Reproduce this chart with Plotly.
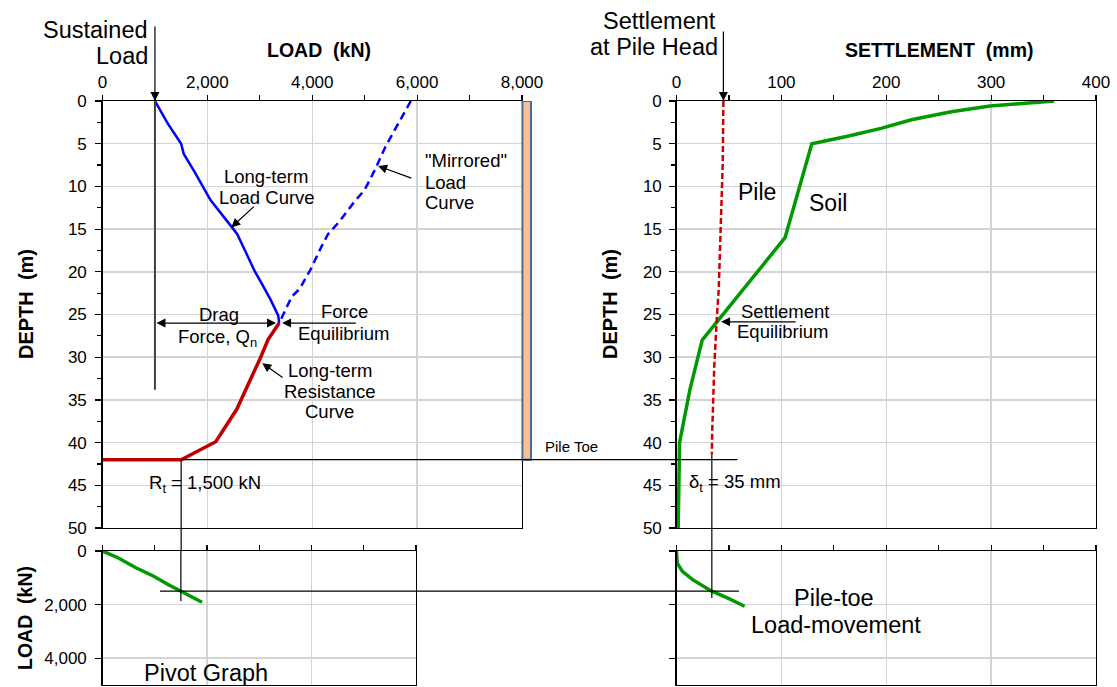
import plotly.graph_objects as go

W, H = 1117, 687
FONT = "Liberation Sans, Arial, sans-serif"

# ---------------- data ----------------
LOAD_KN = [1000, 1240, 1500, 1550, 1750, 2060, 2470, 2570, 2740, 2900, 3040, 3200, 3350, 3370]
LOAD_DEPTH = [0, 2.6, 5.0, 6.2, 8.25, 11.6, 14.8, 15.6, 17.8, 19.9, 21.4, 23.2, 25.1, 26.0]

MIRROR_KN = [5880, 5400, 5200, 5000, 4790, 4520, 4300, 4180, 3970, 3760, 3610, 3460, 3370]
MIRROR_DEPTH = [0, 5.3, 8.0, 10.4, 11.9, 14.1, 15.6, 17.0, 19.7, 22.0, 22.9, 24.9, 26.0]

RES_KN = [3370, 3160, 3010, 2780, 2560, 2160, 1500, 0]
RES_DEPTH = [26.0, 27.9, 30.1, 33.2, 36.1, 39.9, 42.0, 42.0]

SOIL_MM = [360, 299, 262, 224, 195, 162, 129, 103.5, 24.5, 12.8, 2.9, 1.6]
SOIL_DEPTH = [0, 0.58, 1.25, 2.2, 3.2, 4.16, 5.0, 16.0, 28.0, 33.8, 40.0, 50.0]

PILE_MM = [44.7, 44.1, 42.1, 40.3, 38.3, 36.0, 34.0, 33.7]
PILE_DEPTH = [0, 7.3, 15.0, 22.0, 25.7, 31.1, 38.9, 41.4]

PIVOT_X_KN = [0, 295, 640, 980, 1255, 1500, 1905]
PIVOT_Y_KN = [0, 250, 625, 940, 1250, 1500, 1910]

TOE_MOVE_MM = [0, 0.7, 5.6, 15.4, 33.5, 48, 65]
TOE_LOAD_KN = [0, 450, 760, 1070, 1500, 1740, 2060]

SUSTAINED_LOAD = 1000
SUSTAINED_LINE_END = 33.8
NEUTRAL_DEPTH = 26.0
PILE_TOE_DEPTH = 42.0
PILE_HEAD_SETTLEMENT = 44.7
RT = 1500
DELTA_T = 33.7
RT_PIVOT_END = 1875
DT_TOE_END = 1750
TOE_LINE_START = 1100
TOE_LINE_END_MM = 59.5
TOE_DEPTH_LINE_END_MM = 58
PILE_LINE_START = 41.4

X1_RANGE = [0, 8000]
X2_RANGE = [0, 400]
X3_RANGE = [0, 6000]
DEPTH_RANGE = [50, 0]
LOAD_RANGE = [5000, 0]

# ---------------- layout geometry ----------------
def px_x(a, b):
    return [a / W, b / W]

def px_y(top, bottom):
    return [1 - bottom / H, 1 - top / H]

TL_X = px_x(102.5, 522)
TR_X = px_x(676.5, 1096)
BL_X = px_x(102.5, 416)
TOP_Y = px_y(101, 528)
BOT_Y = px_y(551, 685)

BLUE = "#0000FF"
RED = "#C00000"
GREEN = "#009A00"
GRID = "#D4D4D4"

fig = go.Figure()

fig.add_trace(go.Scatter(x=LOAD_KN, y=LOAD_DEPTH, mode="lines",
                         line=dict(color=BLUE, width=2.5), xaxis="x", yaxis="y"))
fig.add_trace(go.Scatter(x=MIRROR_KN, y=MIRROR_DEPTH, mode="lines",
                         line=dict(color=BLUE, width=2.5, dash="8px,5px"), xaxis="x", yaxis="y"))
fig.add_trace(go.Scatter(x=RES_KN, y=RES_DEPTH, mode="lines",
                         line=dict(color=RED, width=3.5), xaxis="x", yaxis="y"))
fig.add_trace(go.Scatter(x=SOIL_MM, y=SOIL_DEPTH, mode="lines",
                         line=dict(color=GREEN, width=3.5), xaxis="x2", yaxis="y2"))
fig.add_trace(go.Scatter(x=PILE_MM, y=PILE_DEPTH, mode="lines",
                         line=dict(color="#CC0000", width=2.5, dash="6px,3px"), xaxis="x2", yaxis="y2"))
fig.add_trace(go.Scatter(x=PIVOT_X_KN, y=PIVOT_Y_KN, mode="lines",
                         line=dict(color=GREEN, width=3.5), xaxis="x3", yaxis="y3"))
fig.add_trace(go.Scatter(x=TOE_MOVE_MM, y=TOE_LOAD_KN, mode="lines",
                         line=dict(color=GREEN, width=3.5), xaxis="x4", yaxis="y4"))

# ---------------- axes ----------------
def ax_style(**kw):
    d = dict(showline=True, linecolor="black", linewidth=1.3, mirror=True,
             ticks="outside", tickcolor="black", tickwidth=1.2, ticklen=5,
             showgrid=True, gridcolor=GRID, gridwidth=1.5, zeroline=False,
             tickfont=dict(size=17, color="black", family=FONT), fixedrange=True)
    d.update(kw)
    return d

def minor(dt, ln):
    return dict(dtick=dt, ticks="outside", ticklen=ln, tickcolor="black", tickwidth=1.2, showgrid=False)

fig.update_layout(
    xaxis=ax_style(domain=TL_X, anchor="y", side="top", range=X1_RANGE, dtick=2000,
                   tickformat=",", minor=minor(1000, 5)),
    yaxis=ax_style(domain=TOP_Y, anchor="x", range=DEPTH_RANGE, dtick=5, ticklen=6,
                   ticklabelstandoff=5, minor=minor(2.5, 4)),
    xaxis2=ax_style(domain=TR_X, anchor="y2", side="top", range=X2_RANGE, dtick=100,
                    minor=minor(50, 5)),
    yaxis2=ax_style(domain=TOP_Y, anchor="x2", range=DEPTH_RANGE, dtick=5, ticklen=6,
                    ticklabelstandoff=4, minor=minor(2.5, 4)),
    xaxis3=ax_style(domain=BL_X, anchor="y3", side="top", range=X3_RANGE, dtick=2000,
                    showticklabels=False, minor=minor(1000, 5)),
    yaxis3=ax_style(domain=BOT_Y, anchor="x3", range=LOAD_RANGE, dtick=2000, ticklen=6,
                    ticklabelstandoff=5, tickformat=","),
    xaxis4=ax_style(domain=TR_X, anchor="y4", side="top", range=X2_RANGE, dtick=100,
                    showticklabels=False, minor=minor(50, 5)),
    yaxis4=ax_style(domain=BOT_Y, anchor="x4", range=LOAD_RANGE, dtick=2000, ticklen=6,
                    showticklabels=False),
)

# ---------------- shapes ----------------
shapes = []
LINE = dict(color="black", width=1.2)

shapes.append(dict(type="line", xref="x", yref="y", x0=SUSTAINED_LOAD, x1=SUSTAINED_LOAD,
                   y0=0, y1=SUSTAINED_LINE_END, line=dict(color="#404040", width=2)))
shapes.append(dict(type="rect", xref="x domain", yref="y", x0=1.001, x1=1.0215,
                   y0=0, y1=PILE_TOE_DEPTH, fillcolor="#FAC090",
                   line=dict(color="#4A6A9A", width=2)))
shapes += [
    dict(type="line", xref="x", yref="y", x0=RT, x1=X1_RANGE[1], y0=PILE_TOE_DEPTH, y1=PILE_TOE_DEPTH, line=LINE),
    dict(type="line", xref="paper", yref="y", x0=TL_X[1], x1=TR_X[0], y0=PILE_TOE_DEPTH, y1=PILE_TOE_DEPTH, line=LINE),
    dict(type="line", xref="x2", yref="y2", x0=0, x1=TOE_DEPTH_LINE_END_MM, y0=PILE_TOE_DEPTH, y1=PILE_TOE_DEPTH, line=LINE),
]
shapes += [
    dict(type="line", xref="x", yref="y", x0=RT, x1=RT, y0=PILE_TOE_DEPTH, y1=DEPTH_RANGE[0], line=LINE),
    dict(type="line", xref="x", yref="paper", x0=RT, x1=RT, y0=BOT_Y[1], y1=TOP_Y[0], line=LINE),
    dict(type="line", xref="x3", yref="y3", x0=RT, x1=RT, y0=0, y1=RT_PIVOT_END, line=LINE),
]
shapes += [
    dict(type="line", xref="x2", yref="y2", x0=DELTA_T, x1=DELTA_T, y0=PILE_LINE_START, y1=DEPTH_RANGE[0], line=LINE),
    dict(type="line", xref="x2", yref="paper", x0=DELTA_T, x1=DELTA_T, y0=BOT_Y[1], y1=TOP_Y[0], line=LINE),
    dict(type="line", xref="x4", yref="y4", x0=DELTA_T, x1=DELTA_T, y0=0, y1=DT_TOE_END, line=LINE),
]
shapes += [
    dict(type="line", xref="x3", yref="y3", x0=TOE_LINE_START, x1=X3_RANGE[1], y0=RT, y1=RT, line=LINE),
    dict(type="line", xref="paper", yref="y3", x0=BL_X[1], x1=TR_X[0], y0=RT, y1=RT, line=LINE),
    dict(type="line", xref="x4", yref="y4", x0=0, x1=TOE_LINE_END_MM, y0=RT, y1=RT, line=LINE),
]
fig.update_layout(shapes=shapes)

# ---------------- annotations ----------------
ann = []

def txt(text, x, y, xref, yref, size=18.5, xanchor="center", yanchor="middle", **kw):
    d = dict(text=text, x=x, y=y, xref=xref, yref=yref, showarrow=False,
             xanchor=xanchor, yanchor=yanchor,
             font=dict(size=size, color="black", family=FONT))
    d.update(kw)
    ann.append(d)

def arrow(x, y, ax, ay, xref, yref, side="end", size=1.5, width=1.2):
    ann.append(dict(text="", x=x, y=y, ax=ax, ay=ay, xref=xref, yref=yref,
                    axref=xref, ayref=yref, showarrow=True, arrowhead=2,
                    arrowsize=size, arrowwidth=width, arrowcolor="black",
                    arrowside=side, standoff=0, startstandoff=0))

txt("<b>LOAD\u00a0 (kN)</b>", 319 / W, 1 - 50 / H, "paper", "paper", size=19.5)
txt("<b>SETTLEMENT\u00a0 (mm)</b>", 939 / W, 1 - 50 / H, "paper", "paper", size=19.5)
txt("<b>DEPTH\u00a0 (m)</b>", 26 / W, 1 - 304 / H, "paper", "paper", size=20, textangle=-90)
txt("<b>DEPTH\u00a0 (m)</b>", 610 / W, 1 - 304 / H, "paper", "paper", size=20, textangle=-90)
txt("<b>LOAD\u00a0 (kN)</b>", 25 / W, 1 - 618 / H, "paper", "paper", size=19.5, textangle=-90)

ann.append(dict(text="", x=SUSTAINED_LOAD, y=0, xref="x", yref="y", ax=0, ay=-76,
                showarrow=True, arrowhead=2, arrowsize=1.5, arrowwidth=1.2,
                arrowcolor="black", standoff=0))
txt("Sustained", SUSTAINED_LOAD, 1 - 30 / H, "x", "paper", size=23.5, xanchor="right", xshift=-5)
txt("Load", SUSTAINED_LOAD, 1 - 56 / H, "x", "paper", size=23.5, xanchor="right", xshift=-5)

ann.append(dict(text="", x=PILE_HEAD_SETTLEMENT, y=0, xref="x2", yref="y2", ax=0, ay=-71,
                showarrow=True, arrowhead=2, arrowsize=1.5, arrowwidth=1.2,
                arrowcolor="black", standoff=0))
txt("Settlement", PILE_HEAD_SETTLEMENT, 1 - 21 / H, "x2", "paper", size=23.5, xanchor="right", xshift=-5)
txt("at Pile Head", PILE_HEAD_SETTLEMENT, 1 - 47 / H, "x2", "paper", size=23.5, xanchor="right", xshift=-3)

txt("Long-term", 3116, 8.85, "x", "y")
txt("Load Curve", 3143, 11.35, "x", "y")
arrow(2457, 14.8, 2915, 12.2, "x", "y")

txt('"Mirrored"', 6109, 7.0, "x", "y", xanchor="left")
txt("Load", 6109, 9.5, "x", "y", xanchor="left")
txt("Curve", 6109, 11.9, "x", "y", xanchor="left")
arrow(5256, 7.6, 5918, 9.1, "x", "y")

txt("Drag", 2215, 25.0, "x", "y")
txt("Force, Q<sub>n</sub>", 2200, 27.8, "x", "y")
arrow(3310, NEUTRAL_DEPTH, SUSTAINED_LOAD, NEUTRAL_DEPTH, "x", "y", side="end+start")

txt("Force", 4612, 24.7, "x", "y")
txt("Equilibrium", 4597, 27.2, "x", "y")
arrow(3424, NEUTRAL_DEPTH, 4860, NEUTRAL_DEPTH, "x", "y")

txt("Long-term", 4330, 31.5, "x", "y")
txt("Resistance", 4340, 34.0, "x", "y")
txt("Curve", 4332, 36.4, "x", "y")
arrow(3047, 30.7, 3463, 32.5, "x", "y")

txt("R<sub>t</sub> = 1,500 kN", 1951, 44.9, "x", "y")
txt("Pile Toe", 1.049, 40.5, "x domain", "y", size=15, xanchor="left")

txt("Pile", 76.4, 10.6, "x2", "y2", size=23)
txt("Soil", 144, 11.9, "x2", "y2", size=23)
txt("Settlement", 103, 24.6, "x2", "y2")
txt("Equilibrium", 102, 27.0, "x2", "y2")
arrow(42.5, 25.86, 115, 25.86, "x2", "y2")
txt("\u03b4<sub>t</sub> = 35 mm", 56, 44.7, "x2", "y2")

txt("Pivot Graph", 1975, 4560, "x3", "y3", size=23.5)
txt("Pile-toe", 150.4, 1740, "x4", "y4", size=23.5)
txt("Load-movement", 151.7, 2750, "x4", "y4", size=23.5)

fig.update_layout(
    annotations=ann,
    width=W, height=H,
    margin=dict(l=0, r=0, t=0, b=0, pad=0, autoexpand=False),
    paper_bgcolor="white", plot_bgcolor="white",
    showlegend=False, hovermode=False,
    font=dict(family=FONT, color="black"),
)

fig.write_html("out.html",
               config={"displayModeBar": False, "staticPlot": True},
               post_script="document.body.style.margin='0px';"
                           "document.body.style.padding='0px';"
                           "document.body.style.overflow='hidden';")
